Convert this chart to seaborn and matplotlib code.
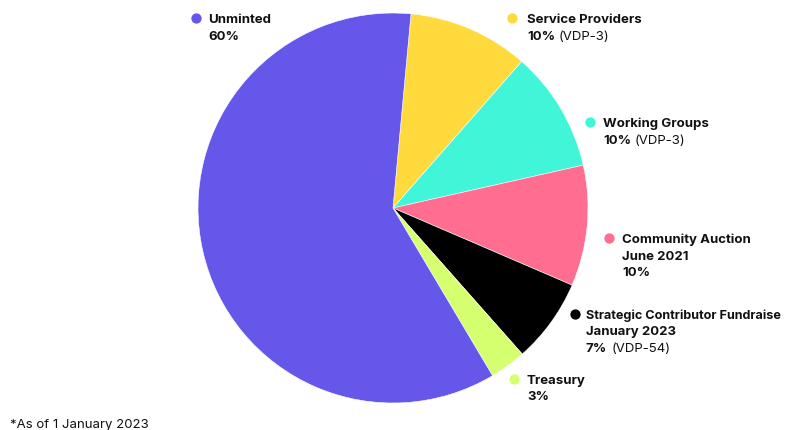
import matplotlib
matplotlib.use("Agg")
import matplotlib.pyplot as plt
import seaborn as sns

sns.set_theme(style="white")
plt.rcParams['font.family'] = ['Inter', 'DejaVu Sans']

# Data (clockwise from Service Providers)
categories = ["Service Providers", "Working Groups", "Community Auction", "Strategic Contributor Fundraise", "Treasury", "Unminted"]
values = [10, 10, 10, 7, 3, 60]
colors = ["#FFDA3C", "#40F5D8", "#FF6E91", "#000000", "#D6FF6F", "#6457EA"]

# Label texts: (bold lines, last line bold part, last line regular part)
label_lines = {
    "Unminted": (["Unminted"], "60%", ""),
    "Service Providers": (["Service Providers"], "10%", "(VDP-3)"),
    "Working Groups": (["Working Groups"], "10%", "(VDP-3)"),
    "Community Auction": (["Community Auction", "June 2021"], "10%", ""),
    "Strategic Contributor Fundraise": (["Strategic Contributor Fundraise", "January 2023"], "7%", "(VDP-54)"),
    "Treasury": (["Treasury"], "3%", ""),
}
footnote = "*As of 1 January 2023"

W, H = 789, 431
fig = plt.figure(figsize=(W / 100, H / 100), dpi=100)
ax = fig.add_axes([0, 0, 1, 1])

cx, cy, r = 393, H - 209, 195
ax.pie(values, colors=colors, startangle=84.7, counterclock=False,
       center=(cx, cy), radius=r,
       wedgeprops=dict(linewidth=0.4, edgecolor="white"))
ax.set_xlim(0, W)
ax.set_ylim(0, H)
ax.set_aspect("equal")
ax.axis("off")

# label anchor positions in pixel coords (dot x, text x, first line y)
anchors = {
    "Unminted": (196, 208, 20),
    "Service Providers": (512, 527, 20),
    "Working Groups": (590, 603, 124),
    "Community Auction": (609, 622, 240),
    "Strategic Contributor Fundraise": (575, 586, 316),
    "Treasury": (514, 527, 381),
}
color_map = dict(zip(categories, colors))
fs = 9.5
lh = 16.5
renderer = fig.canvas.get_renderer()
for cat, (dx, tx, ty) in anchors.items():
    ax.scatter([dx], [H - ty + 1], s=55, color=color_map[cat], zorder=5, linewidths=0)
    bold_lines, last_bold, last_reg = label_lines[cat]
    y = ty
    for line in bold_lines:
        size = 9.1 if len(line) > 25 else fs
        ax.text(tx, H - y, line, fontsize=size, fontweight="bold", va="center", ha="left", color="#111111")
        y += lh
    t = ax.text(tx, H - y, last_bold, fontsize=fs, fontweight="bold", va="center", ha="left", color="#111111")
    if last_reg:
        bb = t.get_window_extent(renderer=renderer)
        ax.text(bb.x1 + 4, H - y, last_reg, fontsize=fs, va="center", ha="left", color="#111111")

ax.text(10, H - 425, footnote, fontsize=fs, va="center", ha="left", color="#111111")

fig.savefig("out.png", dpi=100)
